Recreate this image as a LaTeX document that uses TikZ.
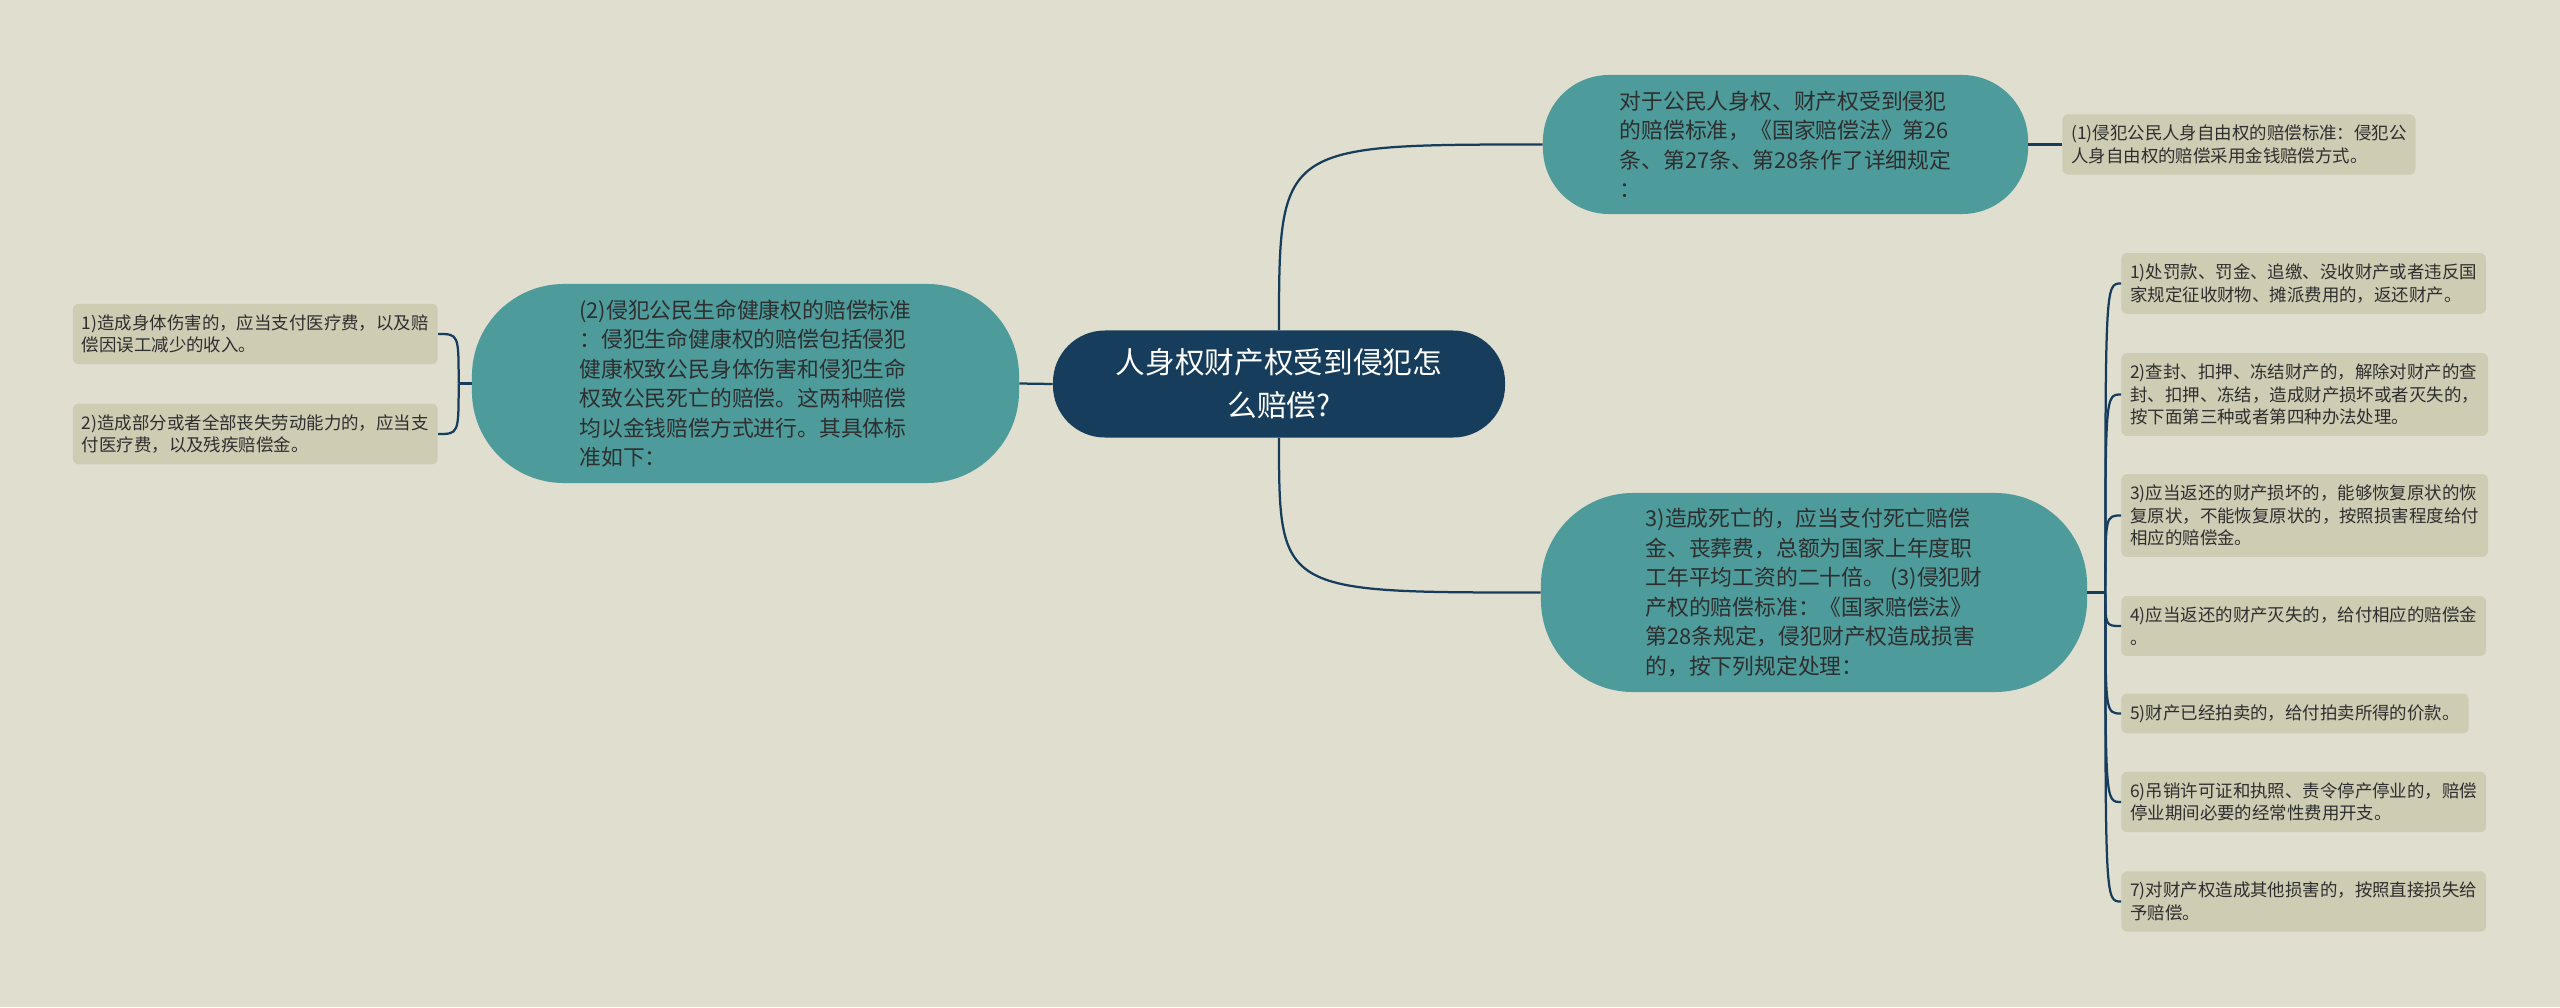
\documentclass[tikz,border=0pt]{standalone}
\usepackage{fontspec}
\newfontfamily\cjk{Noto Sans CJK SC}
\definecolor{paper}{HTML}{E0DECF}
\definecolor{navy}{HTML}{173D5C}
\definecolor{branchc}{HTML}{4E9B9B}
\definecolor{leafbg}{HTML}{CFCCB4}
\definecolor{ink}{HTML}{2E2E2E}

\begin{document}
\begin{tikzpicture}[x=0.025cm, y=-0.025cm,
    root/.style={fill=navy, text=white, rounded corners=1.3cm, minimum width=11.3cm,
      minimum height=2.675cm, align=center, font=\cjk\fontsize{21.1}{30.6}\selectfont},
    branch/.style={fill=branchc, text=ink, align=left,
      font=\cjk\fontsize{15.5}{21}\selectfont},
    leaf/.style={fill=leafbg, text=ink, rounded corners=0.15cm, inner xsep=0.225cm,
      inner ysep=0.27cm, align=left, font=\cjk\fontsize{12.4}{16}\selectfont},
    link/.style={draw=navy, line width=1.6pt}]

% Background
\fill[paper] (0,0) rectangle (2560,1007);
\useasboundingbox (0,0) rectangle (2560,1007);

% Centre
\node[root] (root) at (1279,384) {人身权财产权受到侵犯怎\\么赔偿?};

% Branches
\node[branch, rounded corners=1.65cm, minimum width=12.125cm, minimum height=3.475cm]
  (law) at (1785.5,144.5) {对于公民人身权、财产权受到侵犯\\的赔偿标准，《国家赔偿法》第26\\条、第27条、第28条作了详细规定\\：};
\node[branch, rounded corners=2.3cm, minimum width=13.675cm, minimum height=4.975cm]
  (life) at (745.5,383.5) {(2)侵犯公民生命健康权的赔偿标准\\：侵犯生命健康权的赔偿包括侵犯\\健康权致公民身体伤害和侵犯生命\\权致公民死亡的赔偿。这两种赔偿\\均以金钱赔偿方式进行。其具体标\\准如下：};
\node[branch, rounded corners=2.3cm, minimum width=13.65cm, minimum height=4.975cm]
  (prop) at (1814,592.5) {3)造成死亡的，应当支付死亡赔偿\\金、丧葬费，总额为国家上年度职\\工年平均工资的二十倍。 (3)侵犯财\\产权的赔偿标准：《国家赔偿法》\\第28条规定，侵犯财产权造成损害\\的，按下列规定处理：};

% Leaves: personal freedom
\node[leaf, anchor=west] (free) at (2062,144.5) {(1)侵犯公民人身自由权的赔偿标准：侵犯公\\人身自由权的赔偿采用金钱赔偿方式。};

% Leaves: life and health
\node[leaf, anchor=east] (l1) at (438,334) {1)造成身体伤害的，应当支付医疗费，以及赔\\偿因误工减少的收入。};
\node[leaf, anchor=east] (l2) at (438,434) {2)造成部分或者全部丧失劳动能力的，应当支\\付医疗费，以及残疾赔偿金。};

% Leaves: property
\node[leaf, anchor=west] (p1) at (2121,283.5) {1)处罚款、罚金、追缴、没收财产或者违反国\\家规定征收财物、摊派费用的，返还财产。};
\node[leaf, anchor=west] (p2) at (2121,394.5) {2)查封、扣押、冻结财产的，解除对财产的查\\封、扣押、冻结，造成财产损坏或者灭失的，\\按下面第三种或者第四种办法处理。};
\node[leaf, anchor=west] (p3) at (2121,515.5) {3)应当返还的财产损坏的，能够恢复原状的恢\\复原状，不能恢复原状的，按照损害程度给付\\相应的赔偿金。};
\node[leaf, anchor=west] (p4) at (2121,626) {4)应当返还的财产灭失的，给付相应的赔偿金\\。};
\node[leaf, anchor=west] (p5) at (2121,713.5) {5)财产已经拍卖的，给付拍卖所得的价款。};
\node[leaf, anchor=west] (p6) at (2121,802) {6)吊销许可证和执照、责令停产停业的，赔偿\\停业期间必要的经常性费用开支。};
\node[leaf, anchor=west] (p7) at (2121,901.5) {7)对财产权造成其他损害的，按照直接损失给\\予赔偿。};

% Connectors from the centre
\draw[link] (root.west) -- (life.east);
\draw[link] (root.north) .. controls (root.north |- law.west) .. (law.west);
\draw[link] (root.south) .. controls (root.south |- prop.west) .. (prop.west);
\draw[link] (law.east) -- (free.west);

% Bracket on the left
\draw[link] (life.west) -- ++(-13,0) coordinate (lhub);
\foreach \i in {1,2}
  \draw[link] (lhub) .. controls (lhub |- l\i.east) .. (l\i.east);

% Bracket on the right
\draw[link] (prop.east) -- ++(18,0) coordinate (rhub);
\foreach \i in {1,...,7}
  \draw[link] (rhub) .. controls (rhub |- p\i.west) .. (p\i.west);

\end{tikzpicture}
\end{document}
